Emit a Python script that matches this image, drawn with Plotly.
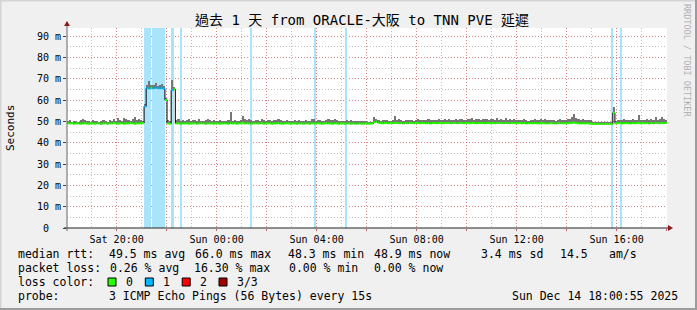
import pandas as pd
import plotly.graph_objects as go

# ---------------- data ----------------
START = pd.Timestamp("2025-12-13 18:00:55")
BIN_MIN = 5  # minutes per sample

# median RTT (ms), one row per hour, 12 samples of 5 min each
MEDIAN = [
    49.1, 49.0, 49.2, 48.9, 49.0, 49.1, 48.9, 49.0, 49.2, 49.0, 48.9, 49.0,
    49.0, 48.9, 49.1, 49.0, 48.8, 49.0, 49.1, 48.9, 49.0, 49.0, 49.2, 49.0,
    48.9, 49.0, 49.1, 48.9, 49.0, 49.0, 49.2, 49.1, 48.9, 49.0, 49.0, 49.1,
    49.2, 57.0, 65.6, 65.4, 65.7, 65.5, 65.8, 65.6, 65.5, 65.7, 65.3, 60.0,
    49.0, 48.9, 64.6, 65.0, 49.0, 49.1, 48.9, 49.0, 49.0, 49.1, 48.9, 49.0,
    49.0, 49.1, 48.9, 49.0, 49.2, 49.0, 48.9, 49.0, 49.1, 49.0, 48.9, 49.0,
    49.0, 48.9, 49.0, 49.1, 49.0, 48.9, 49.3, 49.0, 49.1, 48.9, 49.0, 49.1,
    49.2, 49.0, 49.1, 49.0, 48.9, 49.0, 49.1, 49.0, 49.0, 49.2, 48.9, 49.0,
    49.0, 49.1, 48.9, 49.0, 49.0, 49.2, 49.0, 48.9, 49.0, 49.1, 49.0, 48.9,
    49.0, 49.0, 48.9, 49.1, 49.0, 48.9, 49.0, 49.0, 48.9, 49.1, 49.0, 49.0,
    49.1, 49.0, 48.9, 49.0, 49.2, 49.0, 49.0, 48.9, 49.1, 49.0, 48.9, 49.0,
    49.0, 48.9, 49.0, 49.0, 48.9, 49.0, 48.9, 48.9, 49.0, 48.9, 48.9, 49.0,
    48.9, 48.9, 49.0, 49.6, 49.9, 49.4, 49.2, 49.1, 49.3, 49.2, 49.1, 49.2,
    49.1, 49.3, 49.2, 49.1, 49.2, 49.0, 49.2, 49.1, 49.3, 49.2, 49.1, 49.2,
    49.2, 49.1, 49.3, 49.2, 49.1, 49.2, 49.0, 49.2, 49.3, 49.1, 49.2, 49.2,
    49.1, 49.2, 49.2, 49.3, 49.1, 49.2, 49.2, 49.1, 49.3, 49.2, 49.1, 49.2,
    49.2, 49.1, 49.3, 49.2, 49.1, 49.2, 49.2, 49.3, 49.1, 49.2, 49.2, 49.1,
    49.2, 49.1, 49.3, 49.2, 49.2, 49.1, 49.3, 49.2, 49.1, 49.2, 49.2, 49.1,
    49.1, 49.2, 49.1, 49.2, 49.0, 49.1, 49.2, 49.1, 49.2, 49.1, 49.0, 49.2,
    49.2, 49.1, 49.0, 49.1, 49.2, 49.1, 49.0, 49.1, 49.2, 49.1, 49.1, 49.0,
    49.1, 49.2, 49.3, 49.4, 49.2, 49.1, 49.0, 49.1, 49.0, 49.1, 49.0, 48.9,
    48.8, 48.8, 48.8, 48.8, 48.8, 48.8, 48.8, 48.8, 48.8, 48.8, 54.0, 49.1,
    49.1, 49.2, 49.0, 49.1, 49.2, 49.1, 49.0, 49.2, 49.1, 49.2, 49.3, 49.1,
    49.2, 49.1, 49.2, 49.0, 49.2, 49.1, 49.3, 49.2, 49.1, 49.2, 49.1, 49.2,
]

# highest ping of each sample (top of the smoke), ms
SMOKE_MAX = [
    50.2, 50.6, 49.8, 50.3, 50.1, 49.9, 50.5, 51.2, 50.4, 50.0, 50.3, 49.9,
    50.8, 50.3, 50.0, 49.9, 50.2, 50.6, 50.1, 49.8, 50.4, 50.2, 51.0, 50.3,
    51.4, 50.6, 50.2, 51.5, 51.0, 50.4, 50.3, 50.9, 51.8, 50.5, 51.1, 50.4,
    50.2, 58.0, 66.9, 68.8, 66.8, 67.1, 67.8, 66.7, 66.9, 67.5, 66.5, 61.0,
    50.4, 50.2, 69.6, 66.0, 50.6, 50.9, 50.3, 50.8, 50.1, 50.5, 50.9, 50.3,
    50.4, 50.7, 50.2, 50.9, 50.3, 50.0, 50.6, 51.0, 50.4, 50.2, 50.8, 50.3,
    50.1, 50.4, 50.2, 50.0, 50.3, 50.4, 54.5, 50.2, 50.5, 50.1, 50.3, 50.8,
    52.3, 50.9, 50.7, 51.0, 50.6, 50.2, 50.4, 50.7, 50.3, 51.2, 50.5, 50.2,
    50.4, 50.6, 50.3, 50.8, 50.5, 51.1, 50.7, 50.3, 50.2, 50.5, 50.2, 50.1,
    50.2, 50.4, 50.0, 50.6, 50.3, 50.2, 50.5, 50.2, 50.3, 50.9, 51.0, 50.3,
    50.4, 50.5, 50.2, 50.3, 50.7, 51.3, 50.6, 50.4, 51.1, 50.5, 50.3, 50.2,
    50.2, 50.0, 50.6, 50.2, 50.4, 50.3, 50.2, 50.1, 50.3, 50.0, 50.2, 50.3,
    49.6, 49.5, 49.7, 52.0, 51.0, 50.6, 50.3, 50.8, 50.4, 50.6, 50.3, 50.2,
    50.7, 52.7, 50.5, 50.9, 50.4, 50.3, 50.6, 50.5, 50.7, 50.4, 50.3, 50.6,
    51.0, 50.5, 50.8, 50.6, 50.4, 50.9, 50.5, 50.7, 50.6, 50.8, 51.0, 50.5,
    50.7, 51.2, 50.6, 50.9, 50.5, 50.8, 51.0, 50.6, 50.9, 51.2, 50.7, 50.8,
    51.1, 50.9, 51.4, 50.8, 51.2, 51.0, 50.6, 51.3, 50.9, 51.1, 50.7, 51.0,
    50.9, 50.6, 51.4, 50.8, 51.0, 50.7, 51.5, 50.8, 51.0, 50.6, 50.9, 50.7,
    50.5, 50.8, 50.4, 50.9, 50.6, 50.3, 50.7, 50.5, 51.0, 50.6, 50.8, 51.1,
    50.7, 51.0, 50.6, 50.4, 50.8, 50.5, 50.3, 50.6, 50.9, 50.4, 50.7, 50.5,
    50.9, 51.3, 52.0, 53.5, 51.6, 51.2, 50.8, 51.0, 50.6, 50.8, 50.5, 50.4,
    49.3, 49.3, 49.3, 49.3, 49.3, 49.3, 49.3, 49.3, 49.3, 49.3, 56.7, 50.3,
    50.4, 50.8, 50.6, 51.0, 50.5, 50.7, 50.4, 50.9, 50.6, 50.8, 53.2, 50.6,
    50.8, 50.5, 51.0, 50.7, 50.9, 50.6, 52.0, 50.8, 51.2, 51.8, 50.9, 50.7,
]

# samples whose median was drawn with the "1 lost" colour
LOSS1_BINS = [37, 38, 39, 41, 42, 43, 44, 45, 46, 50]

# periods with packet loss (hours after START)
LOSS_START = [3.083, 3.41, 4.16, 4.55, 7.35, 9.89, 11.15, 21.77, 22.15]
LOSS_END = [3.37, 3.917, 4.28, 4.59, 7.39, 9.93, 11.19, 21.81, 22.19]

Y_TICKS = [0, 10, 20, 30, 40, 50, 60, 70, 80, 90]
Y_MAX = 93.75

RTT_STATS = [49.5, 66.0, 48.3, 48.9]   # avg, max, min, now
RTT_SD = 3.4
RTT_AMS = 14.5
LOSS_STATS = [0.26, 16.30, 0.00, 0.00]  # avg, max, min, now
LOSS_LEVELS = ["0", "1", "2", "3/3"]
LOSS_COLORS = ["#26ff00", "#00b8ff", "#ff0000", "#a00000"]

TITLE = "過去 1 天 from ORACLE-大阪 to TNN PVE 延遲"
PROBE = "3 ICMP Echo Pings (56 Bytes) every 15s"
STAMP = "Sun Dec 14 18:00:55 2025"

assert len(MEDIAN) == 288 and len(SMOKE_MAX) == 288

# ---------------- figure ----------------
W, H = 697, 310
L, R, T, B = 67, 667, 28, 228
MONO = "DejaVu Sans Mono, Noto Sans CJK TC, monospace"
MAJOR = "rgba(235,60,60,0.45)"
MINOR = "rgba(130,130,130,0.5)"
DASH = "1px,2px"


def px(x):
    return (x - L) / (R - L)


def py(y):
    return (B - y) / (B - T)


step = pd.Timedelta(minutes=BIN_MIN)
bin_start = [START + i * step for i in range(len(MEDIAN))]
bin_mid = [s + step / 2 for s in bin_start]
END = START + pd.Timedelta(hours=24)

fig = go.Figure()

# loss background bands
l_mid = [START + pd.Timedelta(hours=(a + b) / 2) for a, b in zip(LOSS_START, LOSS_END)]
l_w = [(b - a) * 3600 * 1000 for a, b in zip(LOSS_START, LOSS_END)]
fig.add_trace(go.Bar(x=l_mid, y=[Y_MAX] * len(l_mid), base=0, width=l_w,
                     marker=dict(color="#aae4fa", line=dict(width=0)),
                     hoverinfo="skip", showlegend=False))

# smoke
fig.add_trace(go.Bar(x=bin_mid, base=MEDIAN,
                     y=[s - m for s, m in zip(SMOKE_MAX, MEDIAN)],
                     width=[step.total_seconds() * 1000] * len(MEDIAN),
                     marker=dict(color="#767676", line=dict(width=0)),
                     hoverinfo="skip", showlegend=False))

# thin black median (gives the vertical steps)
fig.add_trace(go.Scatter(x=bin_start + [END], y=MEDIAN + [MEDIAN[-1]],
                         mode="lines", line=dict(color="#000000", width=1, shape="hv"),
                         hoverinfo="skip", showlegend=False))

# coloured median segments
for col, pick in ((LOSS_COLORS[0], lambda i: i not in LOSS1_BINS),
                  (LOSS_COLORS[1], lambda i: i in LOSS1_BINS)):
    xs, ys = [], []
    for i, m in enumerate(MEDIAN):
        if pick(i):
            xs += [bin_start[i], bin_start[i] + step, None]
            ys += [m, m, None]
    fig.add_trace(go.Scatter(x=xs, y=ys, mode="lines",
                             line=dict(color=col, width=2),
                             hoverinfo="skip", showlegend=False))

# x ticks: red grid every 2h, labels every 4h, grey grid every hour
tick_vals, tick_text = [], []
t = pd.Timestamp("2025-12-13 20:00")
while t <= END:
    tick_vals.append(t)
    tick_text.append(t.strftime("%a %H:%M") if t.hour % 4 == 0 else "")
    t += pd.Timedelta(hours=2)

fig.update_layout(
    width=W, height=H,
    margin=dict(l=L, r=W - R, t=T, b=H - B, pad=0),
    paper_bgcolor="#f0f0f0", plot_bgcolor="#ffffff",
    barmode="overlay", bargap=0,
    font=dict(family=MONO, size=10, color="#000000"),
    showlegend=False,
    xaxis=dict(
        type="date", range=[START, END],
        tickvals=tick_vals, ticktext=tick_text,
        showgrid=True, gridcolor=MAJOR, griddash=DASH, gridwidth=1,
        minor=dict(dtick=3600000, tick0="2025-12-13 19:00", showgrid=True,
                   gridcolor=MINOR, griddash=DASH, gridwidth=1),
        ticks="outside", ticklen=2, tickcolor="#c06060",
        showline=False, zeroline=False,
        tickfont=dict(family=MONO, size=10),
    ),
    yaxis=dict(
        range=[0, Y_MAX], tickvals=Y_TICKS,
        ticktext=["0\u00a0\u00a0"] + [f"{v} m" for v in Y_TICKS[1:]],
        showgrid=True, gridcolor=MAJOR, griddash=DASH, gridwidth=1,
        minor=dict(dtick=5, showgrid=True,
                   gridcolor=MINOR, griddash=DASH, gridwidth=1),
        ticks="outside", ticklen=3, tickcolor="#444444",
        showline=False, zeroline=False,
        tickfont=dict(family=MONO, size=10),
    ),
)

shapes = []
# axes lines + arrows
shapes.append(dict(type="line", xref="paper", yref="paper",
                   x0=px(L - 3), x1=px(R + 1), y0=0, y1=0,
                   line=dict(color="#222222", width=1)))
shapes.append(dict(type="line", xref="paper", yref="paper",
                   x0=0, x1=0, y0=py(B + 3), y1=py(24),
                   line=dict(color="#666666", width=1)))
shapes.append(dict(type="path", xref="paper", yref="paper",
                   path=f"M {px(R+1)} {py(B-3)} L {px(R+6)} {py(B)} L {px(R+1)} {py(B+3)} Z",
                   fillcolor="#8b1a1a", line=dict(width=0)))
shapes.append(dict(type="path", xref="paper", yref="paper",
                   path=f"M {px(L-3)} {py(26)} L {px(L)} {py(21)} L {px(L+3)} {py(26)} Z",
                   fillcolor="#8b1a1a", line=dict(width=0)))
# frame
shapes.append(dict(type="line", xref="paper", yref="paper",
                   x0=px(0), x1=px(W), y0=py(0.5), y1=py(0.5),
                   line=dict(color="#d4d4d4", width=2)))
shapes.append(dict(type="line", xref="paper", yref="paper",
                   x0=px(0.5), x1=px(0.5), y0=py(0), y1=py(H),
                   line=dict(color="#d4d4d4", width=2)))
shapes.append(dict(type="line", xref="paper", yref="paper",
                   x0=px(0), x1=px(W), y0=py(H - 1), y1=py(H - 1),
                   line=dict(color="#9c9c9c", width=2)))
shapes.append(dict(type="line", xref="paper", yref="paper",
                   x0=px(W - 1), x1=px(W - 1), y0=py(0), y1=py(H),
                   line=dict(color="#9c9c9c", width=2)))

ann = []


def text(s, x, y, size=11.5, anchor="left", color="#000000", angle=0):
    ann.append(dict(text=s, x=px(x), y=py(y), xref="paper", yref="paper",
                    xanchor=anchor, yanchor="middle", showarrow=False,
                    textangle=angle,
                    font=dict(family=MONO, size=size, color=color)))


text(TITLE, 362, 20, size=14, anchor="center")
text("Seconds", 10, 128, size=11, anchor="center", angle=-90)
text("RRDTOOL / TOBI OETIKER", 687, 60, size=8.5, anchor="center",
     color="#b0b0b0", angle=90)

r1, r2, r3, r4 = 254, 268, 282, 296
text("median rtt:", 16, r1)
text(f"{RTT_STATS[0]:.1f} ms avg", 106.7, r1)
text(f"{RTT_STATS[1]:.1f} ms max", 193, r1)
text(f"{RTT_STATS[2]:.1f} ms min", 286, r1)
text(f"{RTT_STATS[3]:.1f} ms now", 372, r1)
text(f"{RTT_SD:.1f} ms sd", 479, r1)
text(f"{RTT_AMS:.1f}", 558, r1)
text("am/s", 607, r1)

text("packet loss:", 16, r2)
text(f"{LOSS_STATS[0]:.2f} % avg", 107.6, r2)
text(f"{LOSS_STATS[1]:.2f} % max", 192.4, r2)
text(f"{LOSS_STATS[2]:.2f} % min", 286.7, r2)
text(f"{LOSS_STATS[3]:.2f} % now", 372.4, r2)

text("loss color:", 16, r3)
box_x = [108, 145.3, 182.2, 219]
lab_x = [123.6, 161, 197.8, 234.7]
for bx, lx, lab, col in zip(box_x, lab_x, LOSS_LEVELS, LOSS_COLORS):
    shapes.append(dict(type="rect", xref="paper", yref="paper",
                       x0=px(bx), x1=px(bx + 8), y0=py(r3 - 4), y1=py(r3 + 4),
                       fillcolor=col, line=dict(color="#000000", width=1)))
    text(lab, lx, r3)

text("probe:", 16, r4)
text(PROBE, 106.7, r4)
text(STAMP, 680, r4, anchor="right")

fig.update_layout(shapes=shapes, annotations=ann)
fig.write_html("out.html")
